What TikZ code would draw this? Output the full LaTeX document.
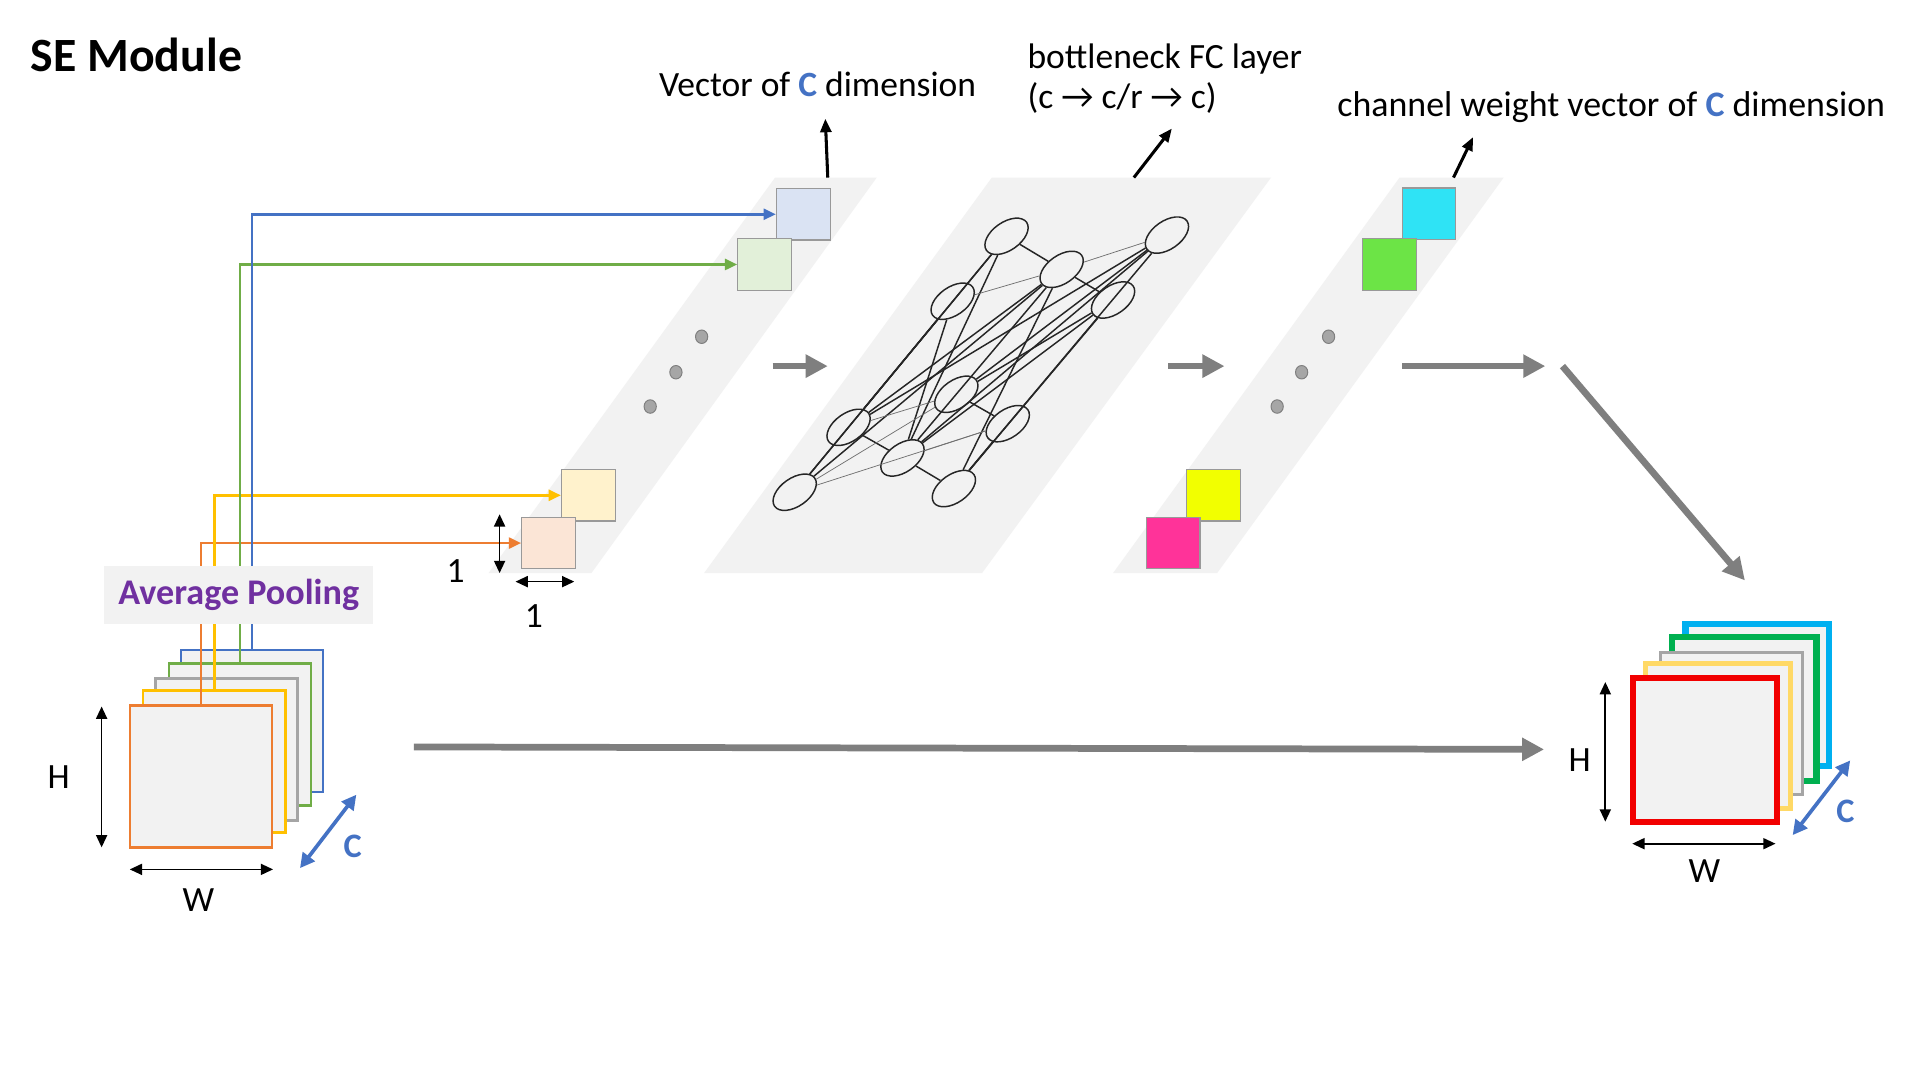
\documentclass[tikz,border=0pt]{standalone}
\usepackage{fontspec}
\setmainfont{Carlito}
\usetikzlibrary{arrows.meta,shapes.geometric}
\definecolor{stripgray}{HTML}{F2F2F2}
\definecolor{cblue}{HTML}{4472C4}
\definecolor{corange}{HTML}{ED7D31}
\definecolor{cyellow}{HTML}{FFC000}
\definecolor{cgray}{HTML}{A5A5A5}
\definecolor{cgreen}{HTML}{70AD47}
\definecolor{cpurple}{HTML}{7030A0}
\definecolor{arrgray}{HTML}{7F7F7F}
\definecolor{sqblue}{HTML}{DAE3F3}
\definecolor{sqgreen}{HTML}{E2F0D9}
\definecolor{sqyellow}{HTML}{FFF2CC}
\definecolor{sqpeach}{HTML}{FBE5D6}
\definecolor{sqborder}{HTML}{999999}
\definecolor{wcyan}{HTML}{2FE3F5}
\definecolor{wgreen}{HTML}{6CE446}
\definecolor{wyellow}{HTML}{F2FF00}
\definecolor{wmagenta}{HTML}{FF3399}
\definecolor{rred}{HTML}{F20000}
\definecolor{ryellow}{HTML}{FFD966}
\definecolor{rgreen}{HTML}{00B050}
\definecolor{rcyan}{HTML}{00B0F0}
\definecolor{nnline}{HTML}{262626}
\definecolor{nnthin}{HTML}{707070}
\definecolor{dotfill}{HTML}{A6A6A6}
\definecolor{dotdraw}{HTML}{7F7F7F}
\begin{document}
\begin{tikzpicture}[x=1pt,y=-1pt,
  lbl/.style={inner sep=0pt, font=\fontsize{29}{34}\selectfont},
  lay/.style={draw, fill=stripgray, minimum width=116pt, minimum height=116pt, inner sep=0pt, outer sep=0pt},
  vsq/.style={draw=sqborder, line width=0.9pt, minimum width=44pt, minimum height=42pt, inner sep=0pt},
  route/.style={line width=2pt, -{Triangle[length=10pt,width=9pt]}},
  dimarr/.style={line width=1.4pt, {Triangle[length=10pt,width=9pt]}-{Triangle[length=10pt,width=9pt]}},
  cdim/.style={cblue, line width=3pt, {Triangle[length=12pt,width=12pt]}-{Triangle[length=12pt,width=12pt]}},
  uparr/.style={line width=2.5pt, -{Triangle[length=11pt,width=9pt]}},
  flow/.style={arrgray, line width=5.5pt, -{Triangle[length=18pt,width=18pt]}},
  nn/.style={ellipse, draw=nnline, fill=stripgray, line width=1.2pt, minimum width=40pt, minimum height=23pt, inner sep=0pt, rotate=35},
  nnw/.style={nnline, line width=1.2pt},
  nnt/.style={nnthin, line width=0.6pt},
  dotn/.style={ellipse, fill=dotfill, draw=dotdraw, line width=0.8pt, minimum width=10pt, minimum height=11pt, inner sep=0pt}
]
\useasboundingbox (0,0) rectangle (1568,882);
\fill[white] (0,0) rectangle (1568,882);

% strips
\fill[stripgray] (399,468) -- (483,468) -- (716,145) -- (633,145) -- cycle;
\fill[stripgray] (575,468) -- (802,468) -- (1038,145) -- (810,145) -- cycle;
\fill[stripgray] (909,468) -- (994,468) -- (1228,145) -- (1143,145) -- cycle;

% vector squares
\node[vsq, fill=sqblue] (v1) at (656,175) {};
\node[vsq, fill=sqgreen] (v2) at (624.5,216) {};
\node[vsq, fill=sqyellow] (v3) at (480.5,404.5) {};
\node[vsq, fill=sqpeach] (v4) at (448,443.5) {};
\node[dotn] (d1) at (573,275) {};
\node[dotn] (d2) at (552,304) {};
\node[dotn] (d3) at (531,332) {};

% weight squares
\node[vsq, fill=wcyan] (w1) at (1167,174.5) {};
\node[vsq, fill=wgreen] (w2) at (1134.5,216) {};
\node[vsq, fill=wyellow] (w3) at (991,404.5) {};
\node[vsq, fill=wmagenta] (w4) at (958,443.5) {};
\node[dotn] (d4) at (1085,275) {};
\node[dotn] (d5) at (1063,304) {};
\node[dotn] (d6) at (1043,332) {};

% neural net
\node[nn] (nA) at (822,193) {};
\node[nn] (nB) at (953,192) {};
\node[nn] (nC) at (867,220) {};
\node[nn] (nD) at (778,246) {};
\node[nn] (nE) at (909,245) {};
\node[nn] (nF) at (781,322) {};
\node[nn] (nG) at (693,349) {};
\node[nn] (nH) at (823,346) {};
\node[nn] (nI) at (737,374) {};
\node[nn] (nJ) at (649,402) {};
\node[nn] (nK) at (779,399) {};
\foreach \a/\b in {A/C,C/E,G/I,I/K,K/H,F/H,A/G,A/I,A/J,D/G,D/I,D/J,C/G,C/J,B/I,B/K,B/F,E/I,E/K,E/F,C/K,C/I,B/G}
  \draw[nnw] (n\a) -- (n\b);
\foreach \a/\b in {D/C,C/B,J/F,J/H,I/H,G/F}
  \draw[nnt] (n\a) -- (n\b);

% left stack
\node[lay, draw=cblue, line width=2pt] (Lb) at (206,589) {};
\node[lay, draw=cgreen, line width=2pt] (Lg) at (196,600) {};
\node[lay, draw=cgray, line width=2pt] (Lgy) at (185,612) {};
\node[lay, draw=cyellow, line width=2pt] (Ly) at (175,622) {};
\node[lay, draw=corange, line width=2pt] (Lo) at (164,634) {};

\draw[route, corange] (Lo.north) |- (v4.west);
\draw[route, cyellow] (Ly.north) |- (v3.west);
\draw[route, cgreen] (Lg.north) |- (v2.west);
\draw[route, cblue] (Lb.north) |- (v1.west);

\node[fill=stripgray, minimum width=220pt, minimum height=47pt, inner sep=0pt, text=cpurple, font=\bfseries\fontsize{29.5}{34}\selectfont] (ap) at (195,486) {\raisebox{-2pt}{Average Pooling}};

% left dims
\coordinate (hl1) at (83,577); \coordinate (hl2) at (83,692);
\draw[dimarr] (hl1) -- (hl2);
\node[lbl] (Hl) at (48,635) {H};
\coordinate (wl1) at (106,710); \coordinate (wl2) at (223,710);
\draw[dimarr] (wl1) -- (wl2);
\node[lbl] (Wl) at (162,735) {W};
\coordinate (cl1) at (245,709); \coordinate (cl2) at (291,649);
\draw[cdim] (cl1) -- (cl2);
\node[lbl, text=cblue, font=\bfseries\fontsize{28}{34}\selectfont] (Cl) at (288,691) {C};

\coordinate (o1a) at (408,420); \coordinate (o1b) at (408,468);
\draw[dimarr] (o1a) -- (o1b);
\node[lbl] (one1) at (372,466) {1};
\coordinate (o2a) at (421,475); \coordinate (o2b) at (469,475);
\draw[dimarr] (o2a) -- (o2b);
\node[lbl] (one2) at (436,503) {1};

% right stack
\node[lay, draw=rcyan, line width=5pt, minimum width=117pt, minimum height=116pt] (Rc) at (1435,567.5) {};
\node[lay, draw=rgreen, line width=5pt, minimum width=118pt, minimum height=117pt] (Rg) at (1424.5,579) {};
\node[lay, draw=cgray, line width=2pt] (Rgy) at (1414,591) {};
\node[lay, draw=ryellow, line width=4pt, minimum width=118pt, minimum height=118pt] (Ry) at (1403,601) {};
\node[lay, draw=rred, line width=5pt, minimum width=118pt, minimum height=118pt] (Rr) at (1392.5,612.5) {};

\coordinate (hr1) at (1311,557); \coordinate (hr2) at (1311,671);
\draw[dimarr] (hr1) -- (hr2);
\node[lbl] (Hr) at (1290,621) {H};
\coordinate (wr1) at (1333,689); \coordinate (wr2) at (1450,689);
\draw[dimarr] (wr1) -- (wr2);
\node[lbl] (Wr) at (1392,711) {W};
\coordinate (cr1) at (1464,682); \coordinate (cr2) at (1511,621);
\draw[cdim] (cr1) -- (cr2);
\node[lbl, text=cblue, font=\bfseries\fontsize{28}{34}\selectfont] (Cr) at (1507,663) {C};

% flow arrows
\coordinate (f1a) at (631,299); \coordinate (f1b) at (676,299);
\coordinate (f2a) at (954,299); \coordinate (f2b) at (1000,299);
\coordinate (f3a) at (1145,299); \coordinate (f3b) at (1262,299);
\coordinate (f4a) at (1276,299); \coordinate (f4b) at (1425,474);
\coordinate (f5a) at (338,610); \coordinate (f5b) at (1261,612);
\draw[flow] (f1a) -- (f1b);
\draw[flow] (f2a) -- (f2b);
\draw[flow] (f3a) -- (f3b);
\draw[flow] (f4a) -- (f4b);
\draw[flow] (f5a) -- (f5b);

% up arrows
\coordinate (u1a) at (676,145); \coordinate (u1b) at (674,97);
\coordinate (u2a) at (926,145); \coordinate (u2b) at (957,105);
\coordinate (u3a) at (1187,145); \coordinate (u3b) at (1203,112);
\draw[uparr] (u1a) -- (u1b);
\draw[uparr] (u2a) -- (u2b);
\draw[uparr] (u3a) -- (u3b);

% texts
\node[inner sep=0pt, anchor=base west, font=\bfseries\fontsize{39}{46}\selectfont] (title) at (25,58) {SE Module};
\node[lbl, anchor=base west] (t1) at (538,79) {Vector of {\bfseries\color{cblue}C} dimension};
\node[lbl, anchor=base west] (t2) at (839,56) {bottleneck FC layer};
\node[lbl, anchor=base west] (t3) at (839,89) {(c → c/r → c)};
\node[lbl, anchor=base west, font=\fontsize{29.3}{34}\selectfont] (t4) at (1092,95) {channel weight vector of {\bfseries\color{cblue}C} dimension};
\end{tikzpicture}
\end{document}
